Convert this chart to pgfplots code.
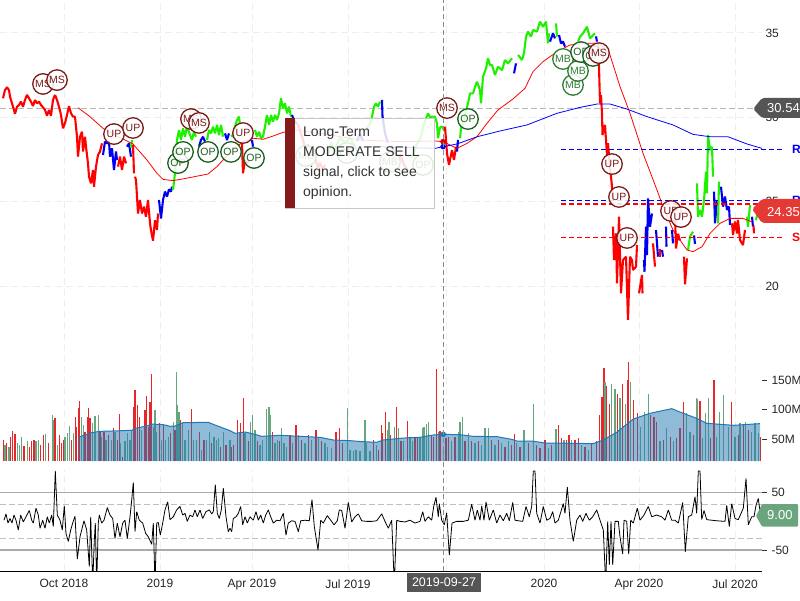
\documentclass[border=0pt]{standalone}
\usepackage{pgfplots}
\usepackage{fontspec}
\setmainfont{Liberation Sans}
\pgfplotsset{compat=1.18}
\definecolor{pr}{HTML}{FF0000}
\definecolor{pb}{HTML}{0000F0}
\definecolor{pg}{HTML}{1EF000}
\definecolor{vr}{HTML}{E8262A}
\definecolor{vg}{HTML}{66A67F}
\definecolor{va}{HTML}{1F77B4}
\definecolor{dred}{HTML}{7B1A1A}
\definecolor{dgrn}{HTML}{1B5E20}
\definecolor{mgrn}{HTML}{2E7D32}
\definecolor{gridc}{HTML}{EEEEEE}
\definecolor{tipbar}{HTML}{851A1A}
\definecolor{flagg}{HTML}{555555}
\definecolor{flagr}{HTML}{E53935}
\definecolor{flagv}{HTML}{6AA57E}
\newcommand{\fs}[1]{\fontsize{#1}{#1}\selectfont}
\pgfplotsset{
  panel/.style={scale only axis,width=762pt,xmin=0,xmax=762,clip=true,
    xmajorgrids,grid style={gridc,line width=1pt,dash pattern=on 7pt off 4pt},
    axis line style={draw=none},xtick style={draw=none},
    xtick={64,160,252,348,446,544,639,735},xticklabels={},
    tick label style={font=\fs{12},text=black!85},
    /pgf/number format/assume math mode=true},
  pbar/.style={line width=2.1pt,line join=bevel,no markers},
  level/.style={draw=#1,line width=1.4pt,dash pattern=on 5pt off 3pt,no markers},
  tag/.style={only marks,mark=none,nodes near coords,point meta=explicit symbolic,
    nodes near coords align=center,
    every node near coord/.append style={circle,draw=#1,line width=1.3pt,fill=white,fill opacity=.85,text opacity=1,text=#1,
      minimum size=20.5pt,inner sep=0pt,font=\fs{10.5},anchor=center,yshift=0pt}}
}
\begin{document}
\begin{tikzpicture}[x=1pt,y=1pt]
% ---------- price panel
\begin{axis}[panel,at={(0pt,238pt)},anchor=south west,height=362pt,ymin=15.498,ymax=36.956,clip=false,
  ymajorgrids,ytick={20,25,30,35},yticklabel pos=right,ytick style={draw=none},
  yticklabel style={anchor=west},ylabel={}]
\addplot[black!28,line width=1.2pt,dash pattern=on 6pt off 3pt] coordinates {(0,30.54)(753,30.54)};
% bars
\addplot[pr,pbar] coordinates {(3,31.13)(5,31.62)(7,31.78)(9,31.62)(10,31.23)(12,30.83)(14,30.44)(15,30.2)(17,30.63)(19,30.73)(21,30.93)(23,30.63)(25,31.03)(27,31.33)(29,31.13)(31,30.93)(33,30.67)(35,31.03)(37,30.83)(39,30.93)(41,30.73)(43,30.59)(45,30.44)(47,30.1)(49,30.44)(51,30.1)(53,31.03)(55,31.33)(57,31.03)(59,30.63)(61,30.14)(63,29.35)(65,29.65)(67,30.14)(69,30.67)(71,30.24)(73,30.04)(75,30.04)(77,28.85)(78,27.67)(80,28.85)(82,29.15)(83,27.97)(85,28.85)(86,28.26)(88,27.27)(89,26.48)(91,26.09)(93,26.88)(94,25.89)(96,27.08)(98,27.77)(100,27.97)(102,28.46)};
\addplot[pb,pbar] coordinates {(103,27.77)(105,28.56)(107,28.46)(109,28.56)(110,27.67)(112,28.16)(114,26.88)(116,27.97)(117,27.47)};
\addplot[pr,pbar] coordinates {(118,27.08)(120,27.67)(122,26.88)(124,27.67)(126,27.27)};
\addplot[pb,pbar] coordinates {(127,28.26)(129,28.46)(131,27.67)};
\addplot[pg,pbar] coordinates {(131,28.2)(132,28.66)};
\addplot[pr,pbar] coordinates {(133,28.36)(134,26.68)};
\addplot[pr,pbar] coordinates {(135,26.48)(136,26.29)(137,25.3)(138,24.3)(140,25.1)(142,24.3)(144,24.71)(146,24.11)(148,25.1)(150,23.72)(151,23.32)(153,22.69)(155,23.9)(157,23.32)(158,24.3)};
\addplot[pb,pbar] coordinates {(159,25.1)(161,24.0)(163,25.1)(165,25.6)(167,25.3)(169,25.73)(171,25.6)(172,25.89)};
\addplot[pg,pbar] coordinates {(173,25.7)(175,26.68)(177,28.66)(179,29.25)(181,28.66)(183,29.35)(185,28.85)(187,29.5)(190,28.95)(192,28.66)(194,29.15)(196,28.85)};
\addplot[pb,pbar] coordinates {(199,28.26)(201,28.66)(203,28.85)(205,28.56)};
\addplot[pg,pbar] coordinates {(207,28.66)(209,29.25)(211,29.05)(213,29.45)(215,29.05)(217,29.55)(219,28.95)(221,29.55)(223,28.85)};
\addplot[pb,pbar] coordinates {(225,29.05)(227,28.66)(229,29.05)};
\addplot[pg,pbar] coordinates {(231,28.95)(233,28.85)(235,29.45)(237,29.84)(239,30.04)(240,29.55)};
\addplot[pr,pbar] coordinates {(242,28.46)(243,26.68)(245,27.47)(247,27.27)(249,27.47)};
\addplot[pb,pbar] coordinates {(252,28.66)(253,28.26)};
\addplot[pg,pbar] coordinates {(255,29.25)(257,28.85)(259,29.15)(261,28.76)(263,28.85)(265,29.45)(267,30.14)(269,29.55)(271,30.14)(273,29.75)(275,30.14)(277,29.84)(279,30.24)(281,31.13)(283,30.53)(285,30.83)(287,30.24)(289,30.63)(291,30.04)};
\addplot[pb,pbar] coordinates {(292,30.14)(294,29.84)(297,29.6)};
\addplot[pr,pbar] coordinates {(298,29.6)(301,29.0)(303,28.7)(306,27.8)(308,28.4)(310,27.5)(313,28.0)(315,27.6)(318,27.0)(320,27.3)(323,26.9)(325,27.2)};
\addplot[pg,pbar] coordinates {(328,27.8)(331,28.5)(335,28.1)(340,28.8)(345,28.5)(350,28.8)(355,28.3)};
\addplot[pb,pbar] coordinates {(357,28.6)(360,29.0)(363,28.6)};
\addplot[pg,pbar] coordinates {(366,29.3)(370,29.6)(372,30.04)(374,30.63)(376,30.83)(378,30.63)(380,30.93)};
\addplot[pb,pbar] coordinates {(382,31.03)(382.5,30.04)(383,29.9)(385,29.05)(388,28.5)};
\addplot[pr,pbar] coordinates {(392,28.3)(396,27.3)(400,27.8)(404,27.2)(408,26.8)};
\addplot[pg,pbar] coordinates {(412,27.6)(416,28.3)(420,28.7)(424,29.6)(428,30.24)(430,30.0)(432,30.04)(435,30.04)(437,29.65)(438,28.76)(440,29.4)(442,29.45)(445,29.15)};
\addplot[pr,pbar] coordinates {(445,29.45)(447,27.87)(449,27.18)(452,28.06)(454,27.47)(456,28.26)};
\addplot[pb,pbar] coordinates {(457,27.97)(458,28.66)};
\addplot[pg,pbar] coordinates {(460,28.76)(461,29.35)(463,29.6)(466,30.4)(468,30.83)(470,31.42)(473,31.42)(475,31.8)(477,32.11)(480,31.62)(481,30.83)(483,32.41)(486,32.9)(488,33.5)(490,33.1)(492,33.1)(495,32.51)(498,33.0)(502,32.8)(505,33.4)(508,33.2)(512,33.5)};
\addplot[pb,pbar] coordinates {(514,32.61)(516,33.2)};
\addplot[pg,pbar] coordinates {(518,33.7)(522,33.4)(524,33.8)(526,34.78)(528,35.08)(531,34.78)(533,35.18)(537,35.08)(540,35.67)(543,35.37)(546,35.67)(548,34.39)(549,34.98)};
\addplot[pb,pbar] coordinates {(550,34.49)(553,34.98)(555,34.68)};
\addplot[pg,pbar] coordinates {(556,35.57)(557,34.78)};
\addplot[pb,pbar] coordinates {(559,34.88)(561,34.39)(563,34.49)(565,34.19)};
\addplot[pg,pbar] coordinates {(578,34.5)(580,34.78)(583,34.98)(587,35.37)(590,34.68)(595,34.98)};
\addplot[pb,pbar] coordinates {(596,34.8)(597,34.49)};
\addplot[pr,pbar] coordinates {(598,34.39)(599,33.0)(600,30.83)(601,31.32)(602,30.2)(602.5,28.95)(605,29.55)(607,27.77)(608,28.46)(610,27.0)(611,26.48)(612,25.9)(613,25.1)};
\addplot[pr,pbar] coordinates {(613,23.52)(614,21.54)(616,23.12)(617,20.16)(619,24.11)(621,19.57)(623,21.54)(626,21.74)(628,17.99)(630,21.74)(632,21.54)(633,20.95)(636,21.15)(637,22.43)};
\addplot[pr,pbar] coordinates {(639,19.57)(642,20.66)(642.5,19.57)};
\addplot[pb,pbar] coordinates {(644,21.54)(644.5,20.85)(646,23.52)(647,21.84)(648,25.2)(650,23.52)(652,24.3)};
\addplot[pr,pbar] coordinates {(653,22.53)(655,21.15)};
\addplot[pb,pbar] coordinates {(656,23.32)(658,21.74)};
\addplot[pr,pbar] coordinates {(660,22.2)(660,21.74)};
\addplot[pb,pbar] coordinates {(662,22.14)(663,21.74)};
\addplot[pb,pbar] coordinates {(666,23.52)(666.5,22.33)};
\addplot[pb,pbar] coordinates {(672,23.32)(673,22.53)};
\addplot[pr,pbar] coordinates {(675,24.11)(676,22.23)(678,23.1)(680,22.7)};
\addplot[pr,pbar] coordinates {(684,21.74)(685,20.1)(687,21.64)};
\addplot[pg,pbar] coordinates {(688,22.14)(690,22.93)(693,23.22)};
\addplot[pb,pbar] coordinates {(694,23.0)(695,22.5)};
\addplot[pg,pbar] coordinates {(697,26.09)(698,24.11)(700,24.51)(702,24.11)(704,25.1)(706,26.78)(707,25.5)(708,28.95)(710,28.06)(712,28.26)(713,26.48)};
\addplot[pb,pbar] coordinates {(714,25.6)(715,23.72)(717,25.1)};
\addplot[pg,pbar] coordinates {(718,23.72)(719,26.19)};
\addplot[pb,pbar] coordinates {(721,25.89)(723,24.71)(725,25.3)(727,24.51)(729,24.71)(730,23.62)};
\addplot[pr,pbar] coordinates {(732,23.72)(733,23.03)(735,23.82)(737,23.12)(738,23.92)(740,22.73)(743,22.43)(745,23.32)};
\addplot[pg,pbar] coordinates {(747,24.11)(748,23.52)(750,24.8)};
\addplot[pb,pbar] coordinates {(752,24.11)(753,23.52)};
\addplot[pr,pbar] coordinates {(753.5,23.6)(754,23.12)};
\addplot[pg,pbar] coordinates {(756,23.9)(758,24.51)(761,24.9)};
% moving averages
\addplot[red,line width=.8pt,no markers] coordinates {(78,30.57)(90,30.04)(103,29.35)(115,28.95)(133,28.42)(147,27.47)(157,26.68)(163,26.32)(173,26.25)(183,26.35)(208,26.64)(217,27.08)(223,27.47)(233,28.06)(243,28.56)(253,28.76)(263,28.70)(273,28.89)(283,29.11)(295,29.25)(320,29.05)(360,28.66)(400,28.56)(435,28.60)(443,28.56)(457,28.16)(467,28.46)(477,28.85)(487,29.65)(498,30.44)(513,31.09)(525,31.72)(533,32.71)(543,33.30)(557,33.89)(570,34.29)(587,34.39)(600,34.39)(610,33.70)(620,31.82)(630,30.24)(643,27.87)(657,25.69)(663,24.71)(673,23.32)(687,22.14)(693,22.04)(702,22.33)(710,23.12)(720,23.72)(730,24.01)(743,24.01)(752,23.8)};
\addplot[blue,line width=.8pt,no markers] coordinates {(380,28.26)(435,28.16)(443,28.26)(457,28.42)(477,28.85)(500,29.19)(527,29.55)(557,30.24)(580,30.59)(597,30.79)(610,30.79)(627,30.49)(647,30.04)(673,29.55)(693,28.99)(710,28.85)(728,28.85)(747,28.42)(762,28.16)};
% support / resistance
\addplot[level=pb] coordinates {(561,28.10)(784,28.10)};
\addplot[level=pb] coordinates {(561,28.10)(784,28.10)};
\addplot[level=pb] coordinates {(561,25.08)(784,25.08)};
\addplot[level=pr] coordinates {(561,24.86)(784,24.86)};
\addplot[level=pr] coordinates {(561,22.89)(784,22.89)};
\addplot[level=pr] coordinates {(561,22.89)(784,22.89)};
% signals
\addplot[tag=mgrn] table[x=x,y=y,meta=t] {
x y t
306 27.71 MB
347 27.89 OP
390 27.36 MB
423 27.18 OP
};
\addplot[tag=dgrn] table[x=x,y=y,meta=t] {
x y t
178 27.29 OP
183 27.95 OP
208 27.95 OP
231 27.95 OP
254 27.59 OP
};
\addplot[tag=dred] table[x=x,y=y,meta=t] {
x y t
43 31.98 MS
57 32.21 MS
114 29.01 UP
133 29.37 UP
191 29.90 MS
199 29.67 MS
243 29.07 UP
447 30.55 MS
};
\addplot[tag=dgrn] table[x=x,y=y,meta=t] {
x y t
468 29.90 OP
};
\addplot[tag=mgrn] table[x=x,y=y,meta=t] {
x y t
563 33.46 MB
573 31.92 MB
578 32.75 MB
};
\addplot[tag=dgrn] table[x=x,y=y,meta=t] {
x y t
581 33.87 OP
593 33.64 OP
};
\addplot[tag=dred] table[x=x,y=y,meta=t] {
x y t
599 33.81 MS
612 27.23 UP
619 25.28 UP
627 22.85 UP
671 24.45 UP
681 24.09 UP
};
\node[text=pb,font=\fs{12}\bfseries,anchor=west,inner sep=0pt] at (axis cs:792,28.10) {R};
\node[text=pb,font=\fs{12}\bfseries,anchor=west,inner sep=0pt] at (axis cs:792,25.08) {R};
\node[text=pr,font=\fs{12}\bfseries,anchor=west,inner sep=0pt] at (axis cs:792,22.89) {S};
\end{axis}
% ---------- volume panel
\begin{axis}[panel,at={(0pt,139pt)},anchor=south west,height=101pt,ymin=12.7,ymax=183.9,
  ytick={50,100,150},yticklabels={50M,100M,150M},yticklabel pos=right,
  ytick style={draw=black!80,line width=.8pt},tick align=outside,major tick length=5pt,
  yticklabel style={anchor=west,xshift=1pt}]
\addplot[ycomb,vr,line width=1.1pt,no markers] coordinates {(3.3,48)(6.7,43)(10.7,54)(12.3,64)(15,58)(24,38)(29.3,37)(31.7,46)(34,48)(40.7,40)(43.3,57)(48.3,43)(55,85)(59.3,57)(61.7,43)(63.3,48)(71.7,48)(75.7,87)(76.7,71)(78.3,102)(79.3,114)(85,62)(87.3,88)(88.3,102)(90,85)(100,62)(104,62)(108.3,57)(113.3,68)(117.3,48)(119.3,92)(122.7,20)(134,105)(135,133)(137.3,108)(139.3,87)(145,99)(146.7,123)(148.3,71)(150,113)(151.7,160)(159.3,77)(163.3,74)(170.7,60)(175,65)(180.7,82)(191.7,100)(199.3,62)(204,48)(211.7,43)(220.7,37)(226,40)(231.7,37)(233.3,40)(237.3,82)(240.7,77)(243.3,119)(248.3,46)(257.3,46)(272.7,62)(279.3,46)(290,57)(296,73)(301.7,48)(308.3,57)(316,66)(321.7,46)(336,62)(339.3,68)(342.7,43)(364.3,54)(373.3,48)(378.3,31)(381.7,74)(382.7,60)(385.3,95)(390.7,57)(396.7,105)(401,46)(407.3,81)(415,51)(417.3,53)(431.7,57)(433.3,54)(436.3,168)(440,64)(446,51)(448.3,54)(455,54)(465,46)(471.7,46)(478.3,46)(491.7,48)(498.3,48)(505,37)(511.7,40)(514.3,58)(520,37)(528.3,43)(536.7,40)(540,34)(545,48)(551.7,40)(558.3,74)(561.7,51)(566.7,48)(569,56)(575,48)(578.3,51)(585,37)(591.7,43)(596.7,47)(599.3,91)(602,121)(604,171)(606.7,139)(609.3,110)(617.3,127)(622.7,143)(627.7,150)(628.3,181)(633.3,116)(637.3,94)(650.7,91)(654,88)(656.7,79)(663.3,48)(670.7,54)(676.7,51)(680,68)(683.3,112)(693.3,57)(700,114)(710.7,51)(714,150)(731.7,113)(738.3,57)(743.3,74)(748.3,65)(760.7,54)};
\addplot[ycomb,vg,line width=1.1pt,no markers] coordinates {(5,40)(9,37)(17.3,43)(19.3,40)(21.3,53)(27.3,46)(36,46)(38.3,48)(45.7,58)(52.3,91)(53.3,82)(57.3,40)(65,54)(67.3,60)(69.3,72)(73.3,60)(81.7,87)(83.3,74)(92.7,77)(95,89)(98.3,91)(101.7,54)(106,48)(111.7,48)(115,62)(120.7,43)(125,46)(127.3,60)(130,48)(131.7,65)(141.7,65)(153.3,71)(155,99)(156.7,62)(161.7,48)(165.7,48)(168.3,54)(173.3,79)(176.3,163)(177.7,108)(179,96)(182.7,77)(185,48)(188.3,65)(193.3,48)(196.7,48)(201.7,31)(206.7,48)(209.3,62)(214,54)(216.7,48)(218.3,51)(223.3,62)(230,48)(239.3,60)(245,60)(250.7,79)(252.3,91)(255,65)(260,40)(262.3,48)(266.7,100)(269,104)(270.7,91)(275,43)(277.3,48)(281.7,68)(284,43)(286.7,36)(292.7,43)(298.3,57)(305,43)(311.7,48)(318.3,51)(325,43)(327.7,37)(331.7,34)(347.3,102)(350,31)(353.3,29)(356,31)(360,29)(365,83)(366.7,43)(370,29)(376.7,40)(387.3,65)(389,79)(394.3,70)(398.7,68)(403.3,46)(410,51)(412.7,46)(420,51)(422.7,68)(424,70)(426.7,75)(428.3,78)(438.3,62)(443.3,37)(451.7,46)(458.3,62)(460,79)(462.7,87)(468.3,61)(475,43)(481.7,40)(485,68)(488.3,68)(495,40)(501.7,43)(508.3,46)(516.7,43)(524,65)(533.3,109)(548.3,34)(556,67)(564,48)(571.7,48)(581.7,40)(588.3,31)(605,147)(611.7,144)(615,134)(620,119)(625.7,110)(630.7,147)(640.7,71)(644.3,96)(648.3,126)(660,46)(666.7,68)(673.3,46)(686.7,94)(690,62)(696.3,119)(697.3,117)(702.7,51)(705.7,94)(708.3,119)(716.7,54)(719.3,96)(723.3,125)(728.3,71)(735,54)(740,77)(745.7,78)(751.7,62)(755,77)(758.3,60)};
\addplot[fill=va,fill opacity=.5,draw=none,no markers] coordinates {(78.3,52.8)(85,56.8)(91.7,60.7)(100,63)(113.3,63.6)(131.7,64.7)(135,68)(146.7,72)(151.7,75.4)(163.3,74.3)(170,71.5)(175,72)(183.3,77.7)(208.3,78.2)(216.7,72.6)(230,64.1)(235,59.6)(245,61.9)(253.3,58.5)(261.7,54.5)(280,56.2)(320,52.8)(333.3,48.3)(350,47.2)(361.7,45.5)(376.7,44.4)(383.3,48.3)(400,51.1)(410,52.3)(420,52.8)(433.3,56.8)(443.3,57.9)(460,57.3)(473.3,54.5)(496.7,54)(511.7,49.4)(516.7,46.6)(531.7,46.6)(545,43.2)(576.7,42.6)(593.3,42.1)(603.3,48.3)(616.7,61.3)(633.3,83.9)(650,93.5)(671.7,101.4)(683.3,93.5)(696.7,85)(706.7,76.6)(733.3,73.2)(760,76)} \closedcycle;
\addplot[va,line width=1pt,no markers] coordinates {(78.3,52.8)(85,56.8)(91.7,60.7)(100,63)(113.3,63.6)(131.7,64.7)(135,68)(146.7,72)(151.7,75.4)(163.3,74.3)(170,71.5)(175,72)(183.3,77.7)(208.3,78.2)(216.7,72.6)(230,64.1)(235,59.6)(245,61.9)(253.3,58.5)(261.7,54.5)(280,56.2)(320,52.8)(333.3,48.3)(350,47.2)(361.7,45.5)(376.7,44.4)(383.3,48.3)(400,51.1)(410,52.3)(420,52.8)(433.3,56.8)(443.3,57.9)(460,57.3)(473.3,54.5)(496.7,54)(511.7,49.4)(516.7,46.6)(531.7,46.6)(545,43.2)(576.7,42.6)(593.3,42.1)(603.3,48.3)(616.7,61.3)(633.3,83.9)(650,93.5)(671.7,101.4)(683.3,93.5)(696.7,85)(706.7,76.6)(733.3,73.2)(760,76)};
\addplot[only marks,mark=*,mark size=2.5pt,va] coordinates {(443.3,57.9)};
\end{axis}
% ---------- CCI panel
\begin{axis}[panel,at={(0pt,29pt)},anchor=south west,height=101pt,ymin=-86.6,ymax=89.6,
  axis x line=bottom,axis y line=right,x axis line style={draw=black,line width=1pt,-},y axis line style={draw=none},
  xticklabels={Oct 2018,2019,Apr 2019,Jul 2019,{},2020,Apr 2020,Jul 2020},
  ytick={-50,50},yticklabels={-50,50},ytick style={draw=black!80,line width=.8pt},tick align=outside,major tick length=5pt,
  yticklabel style={anchor=west,xshift=1pt},
  ]
\addplot[black!33,line width=1.4pt] coordinates {(0,50)(762,50)};
\addplot[black!33,line width=1.4pt] coordinates {(0,-50)(762,-50)};
\addplot[black!25,line width=1pt,dash pattern=on 6pt off 3pt] coordinates {(0,30)(762,30)};
\addplot[black!25,line width=1pt,dash pattern=on 6pt off 3pt] coordinates {(0,-30)(762,-30)};
\addplot[black,line width=.8pt,no markers,line join=bevel] coordinates {(4,2)(6,13)(8,-3)(10,5)(12,-3)(14,11)(16,2)(18.3,-15)(20.7,11)(23.3,-1)(26,8)(29.3,19)(31.7,2)(33.3,-3)(36,23)(38.3,11)(40,-12)(42.7,2)(45,-12)(47.3,8)(49.3,-3)(51.7,11)(53.3,-9)(55.3,88)(57.3,11)(60,2)(62.3,-15)(64.3,27)(66,-21)(68.3,-35)(70.7,-15)(72.7,-3)(75,9)(77.3,-66)(80,-27)(81.7,-15)(84,1)(86.7,-15)(89.3,-79)(90.7,8)(92.7,-110)(94.3,-33)(95.3,-3)(96.7,-110)(98.3,-3)(99.3,11)(101.7,-3)(104,2)(107.3,24)(110,11)(112.7,5)(115,-30)(117.3,-3)(120,-27)(122.7,-3)(125,2)(127.3,-30)(130,8)(131.7,37)(133.3,68)(135,-18)(136.7,17)(139.3,2)(142.7,-3)(145.7,-21)(148.3,-27)(151.7,-40)(153.3,-3)(155,-110)(156.7,-3)(158.3,-2)(160.3,-24)(162.7,-3)(165,20)(167.7,34)(170,3)(173.3,8)(176.7,20)(180,26)(182.7,11)(185,14)(187.3,0)(190,11)(192.7,8)(195,20)(197.3,8)(200,20)(202.7,5)(206,17)(209.3,20)(211.7,13)(213.3,17)(215.3,64)(217.3,14)(219.3,5)(221.3,20)(223.3,58)(226,8)(228.3,-18)(230,-12)(231.7,-18)(233.3,5)(236,8)(238.3,14)(240.7,26)(242.7,-6)(245,8)(247.3,-3)(250,8)(253.3,2)(256,17)(258.3,2)(260.7,11)(263.3,-3)(265.7,11)(268.3,20)(270.7,8)(273.3,-3)(276.7,2)(280,1)(283.3,14)(286,-24)(288.3,-3)(291.7,1)(295,0)(298.3,-18)(300.7,1)(305,2)(309.3,1)(312,38)(314.3,-9)(318,-50)(320.7,2)(323.3,-3)(327.3,10)(330.7,2)(334,-6)(337.3,1)(339.3,20)(341.7,19)(345,-12)(348.3,33)(351.7,-1)(355,8)(358.3,13)(361.7,1)(366.7,0)(371.7,0)(376.7,1)(381.7,13)(385,0)(388.3,-12)(391.7,2)(394.3,-110)(396.7,2)(400,0)(405,-1)(410,2)(415,-3)(420,0)(422.7,17)(425,0)(428.3,8)(431.7,2)(433.7,26)(436,42)(438.3,8)(439.3,31)(441.7,2)(444.3,-6)(446.7,15)(449.3,-59)(452,-3)(456.7,0)(463.3,0)(468.3,2)(471.7,30)(475,2)(477.3,20)(480,2)(481.7,27)(484,2)(486,34)(489.3,2)(493.3,20)(496.7,-3)(500,11)(503.3,1)(506.7,14)(509.3,1)(512.7,33)(515,2)(518.3,1)(522.7,0)(526,26)(529.3,8)(531.7,26)(533.3,88)(535,88)(536.7,14)(540,-3)(543.3,26)(546.7,2)(550,5)(552.7,17)(555,-3)(558.3,2)(563.3,31)(565,14)(567.3,60)(570,2)(573.3,-35)(576.7,2)(580,11)(582.7,0)(586,14)(589.3,2)(592.7,8)(596.7,20)(600,2)(603.3,-15)(605.7,-110)(607.7,0)(609.3,-76)(611,0)(612.7,-76)(615,0)(618.3,0)(620,-27)(622.7,-57)(624,2)(626.7,0)(628.7,-57)(630.7,2)(633.3,-3)(637.3,23)(640,2)(644,11)(648.3,26)(651.7,8)(656.7,11)(661.7,8)(665,2)(668.3,20)(671.7,2)(675,2)(678.3,-3)(682.7,33)(685.3,-53)(688.3,8)(691.7,11)(695,43)(696.7,14)(698.3,88)(700,88)(701.7,3)(704,19)(706.7,3)(711.7,2)(716.7,1)(725,0)(726.7,28)(729.3,-9)(731.7,31)(735,5)(738.3,3)(743.3,23)(746,75)(748.3,-6)(751.7,8)(754,8)(756,28)(758.3,40)(760.7,8)};
\end{axis}
% ---------- overlays
\begin{axis}[scale only axis,width=762pt,height=362pt,at={(0pt,238pt)},anchor=south west,xmin=0,xmax=762,ymin=15.498,ymax=36.956,hide axis,clip=false]
\addplot[only marks,mark=*,mark size=2.5pt,red!85!black] coordinates {(443,28.56)};
\addplot[only marks,mark=*,mark size=2.5pt,blue] coordinates {(443,28.26)};
\end{axis}
\draw[black!45,line width=.9pt,dash pattern=on 5pt off 3pt] (443,29) -- (443,600);
% tooltip
\fill[white,fill opacity=.85] (285,482) rectangle (434,392);
\draw[black!22,line width=.8pt] (285,482) rectangle (434,392);
\fill[tipbar] (285,482) rectangle (295,392);
\foreach \yy/\txt in {463/Long-Term,443/MODERATE SELL,423/{signal, click to see},403/opinion.}{
  \node[anchor=base west,inner sep=0pt,font=\fs{14},text=black!80] at (303,\yy) {\txt};}
% value flags
\fill[flagg,rounded corners=2pt] (753,491) -- (762,502) -- (810,502) -- (810,482) -- (762,482) -- cycle;
\node[anchor=west,inner sep=0pt,font=\fs{13},text=white] at (767,491.5) {30.54};
\fill[flagr,rounded corners=2pt] (752,391) -- (762,401) -- (810,401) -- (810,377) -- (762,377) -- cycle;
\node[anchor=west,inner sep=0pt,font=\fs{13},text=white] at (767,388) {24.35};
\fill[flagv,rounded corners=1pt] (756,84) -- (762,96) -- (798,96) -- (798,73.5) -- (762,73.5) -- cycle;
\node[anchor=west,inner sep=0pt,font=\fs{13},text=white] at (767,85) {9.00};
% date label
\fill[flagg] (407,27) rectangle (481,8);
\node[font=\fs{12.5},text=white,inner sep=0pt] at (444,17.5) {2019-09-27};
\pgfresetboundingbox
\path[use as bounding box] (0,0) rectangle (800,600);
\end{tikzpicture}
\end{document}
